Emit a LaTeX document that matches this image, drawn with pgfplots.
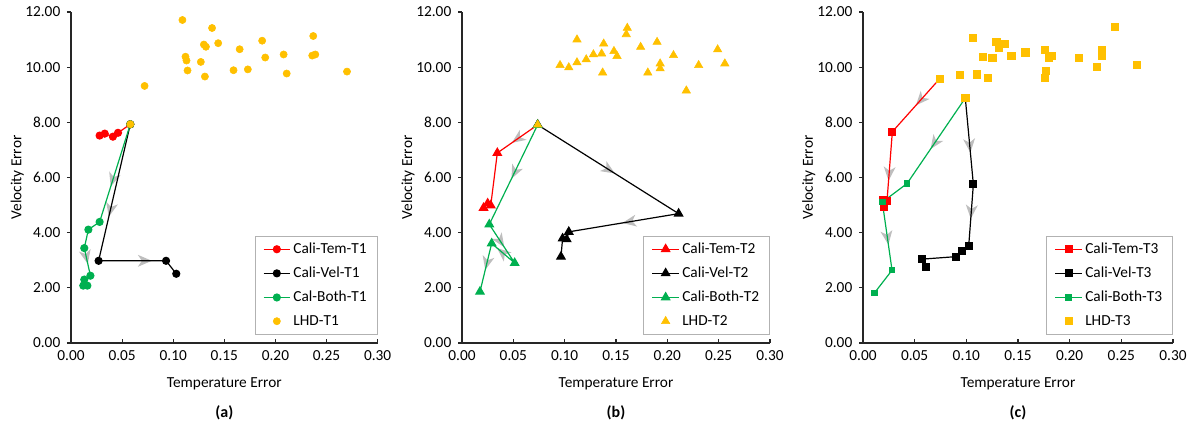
\documentclass[border=0pt]{standalone}
\usepackage{fontspec}
\setmainfont{Carlito}
\usepackage{pgfplots}
\pgfplotsset{compat=1.18}
\usetikzlibrary{decorations.markings}
\definecolor{cRed}{RGB}{255,0,0}
\definecolor{cGrn}{RGB}{0,176,80}
\definecolor{cGld}{RGB}{255,192,0}
\definecolor{cArr}{RGB}{190,190,190}
\pgfplotsset{
  P/.style={
    scale only axis, width=230pt, height=248.25pt,
    xmin=0, xmax=0.30, ymin=0, ymax=12,
    xtick={0,0.05,...,0.30}, ytick={0,2,...,12},
    axis x line*=bottom, axis y line*=left,
    axis line style={black!85, line width=0.8pt},
    xtick align=inside, ytick align=outside,
    major tick length=3pt, tick style={black!85, line width=0.8pt},
    font=\fontsize{11.5}{13.5}\selectfont,
    /pgf/number format/assume math mode=true,
    /pgf/number format/.cd, fixed, fixed zerofill, precision=2, /pgfplots/.cd,
    xticklabel style={yshift=-2pt},
    yticklabel style={xshift=-1.5pt},
    xlabel={Temperature Error}, ylabel={Velocity Error},
    xlabel style={at={(axis description cs:0.5,-0.124)}, anchor=center},
    ylabel style={at={(axis description cs:-0.175,0.5)}, anchor=center},
    legend style={at={(1,0.027)}, anchor=south east, draw=black!30,
      font=\fontsize{11.5}{13.5}\selectfont, row sep=4.6pt, inner xsep=6pt, inner ysep=3pt},
    legend cell align=left,
    legend image code/.code={\draw[mark repeat=2,mark phase=2]
      plot coordinates {(0pt,0pt)(10pt,0pt)(20pt,0pt)};},
    clip=false,
  },
  ln/.style={line width=0.9pt, mark options={solid}},
  arr/.style={forget plot, no markers, draw=none, postaction={decorate},
    decoration={markings, mark=at position #1 with
      {\fill[cArr] (6pt,0) -- (-4.5pt,4.5pt) -- (-1.5pt,0) -- (-4.5pt,-4.5pt) -- cycle;}}},
}
\begin{document}
\begin{tikzpicture}
\path[use as bounding box] (-53.25pt,-67.5pt) rectangle (841.5pt,257.25pt);

% ---------------- (a)
\begin{axis}[P, at={(0pt,0pt)}]
\addplot[arr=0.56] coordinates {(0.058,7.93)(0.028,4.39)};
\addplot[arr=0.62] coordinates {(0.058,7.93)(0.027,2.98)};
\addplot[arr=0.67] coordinates {(0.027,2.98)(0.093,2.98)};
\addplot[arr=0.29] coordinates {(0.013,3.44)(0.019,2.44)};
\addplot[ln, cRed, mark=*, mark size=2.6pt] coordinates {
 (0.058,7.93)(0.046,7.62)(0.041,7.48)(0.033,7.59)(0.028,7.52)};
\addlegendentry{Cali-Tem-T1}
\addplot[ln, black, mark=*, mark size=2.6pt] coordinates {
 (0.058,7.93)(0.027,2.98)(0.093,2.98)(0.103,2.51)};
\addlegendentry{Cali-Vel-T1}
\addplot[ln, cGrn, mark=*, mark size=2.6pt] coordinates {
 (0.058,7.93)(0.028,4.39)(0.017,4.11)(0.013,3.44)(0.019,2.44)(0.013,2.30)(0.012,2.08)(0.016,2.08)};
\addlegendentry{Cal-Both-T1}
\addplot[only marks, cGld, mark=*, mark size=2.7pt] coordinates {
 (0.058,7.93)(0.072,9.32)(0.109,11.71)(0.138,11.42)(0.130,10.82)(0.132,10.74)
 (0.144,10.87)(0.112,10.38)(0.113,10.24)(0.127,10.19)(0.114,9.88)(0.131,9.66)
 (0.165,10.65)(0.187,10.96)(0.190,10.35)(0.159,9.89)(0.173,9.92)(0.208,10.46)
 (0.211,9.77)(0.237,11.13)(0.236,10.42)(0.239,10.46)(0.270,9.84)};
\addlegendentry{LHD-T1}
\node[font=\fontsize{12}{14}\selectfont\bfseries] at (axis description cs:0.5,-0.2115) {(a)};
\end{axis}

% ---------------- (b)
\begin{axis}[P, at={(293.25pt,0pt)}, width=231pt]
\addplot[arr=0.48] coordinates {(0.0737,7.91)(0.0344,6.89)};
\addplot[arr=0.47] coordinates {(0.0737,7.91)(0.0266,4.30)};
\addplot[arr=0.50] coordinates {(0.0737,7.91)(0.211,4.69)};
\addplot[arr=0.44] coordinates {(0.211,4.69)(0.104,4.03)};
\addplot[arr=0.42] coordinates {(0.0266,4.30)(0.0513,2.90)};
\addplot[arr=0.50] coordinates {(0.0513,2.90)(0.0289,3.61)};
\addplot[arr=0.39] coordinates {(0.0289,3.61)(0.0175,1.86)};
\addplot[ln, cRed, mark=triangle*, mark size=3.5pt] coordinates {
 (0.0737,7.91)(0.0344,6.89)(0.028,4.99)(0.025,5.06)(0.021,4.90)};
\addlegendentry{Cali-Tem-T2}
\addplot[ln, black, mark=triangle*, mark size=3.5pt] coordinates {
 (0.0737,7.91)(0.211,4.69)(0.104,4.03)(0.102,3.76)(0.098,3.79)(0.0964,3.13)};
\addlegendentry{Cali-Vel-T2}
\addplot[ln, cGrn, mark=triangle*, mark size=3.5pt] coordinates {
 (0.0737,7.91)(0.0266,4.30)(0.0513,2.90)(0.0289,3.61)(0.0175,1.86)};
\addlegendentry{Cali-Both-T2}
\addplot[only marks, cGld, mark=triangle*, mark size=3.6pt] coordinates {
 (0.0737,7.91)(0.0955,10.07)(0.104,9.99)(0.112,10.17)(0.112,11.00)(0.121,10.28)
 (0.128,10.46)(0.136,10.49)(0.138,10.85)(0.137,9.80)(0.148,10.58)(0.151,10.40)
 (0.160,11.19)(0.161,11.42)(0.174,10.73)(0.190,10.91)(0.181,9.80)(0.193,10.13)
 (0.193,9.95)(0.206,10.43)(0.2185,9.15)(0.2305,10.07)(0.249,10.64)(0.256,10.13)};
\addlegendentry{LHD-T2}
\node[font=\fontsize{12}{14}\selectfont\bfseries] at (axis description cs:0.5,-0.2115) {(b)};
\end{axis}

% ---------------- (c)
\begin{axis}[P, at={(594pt,0pt)}, width=232.5pt]
\addplot[arr=0.39] coordinates {(0.0742,9.58)(0.0284,7.66)};
\addplot[arr=0.59] coordinates {(0.0284,7.66)(0.0232,5.14)};
\addplot[arr=0.52] coordinates {(0.099,8.88)(0.0426,5.78)};
\addplot[arr=0.51] coordinates {(0.0187,5.11)(0.0281,2.64)};
\addplot[arr=0.54] coordinates {(0.099,8.88)(0.1068,5.75)};
\addplot[arr=0.43] coordinates {(0.1068,5.75)(0.1023,3.52)};
\addplot[ln, cRed, mark=square*, mark size=2.5pt] coordinates {
 (0.0742,9.58)(0.0284,7.66)(0.0232,5.14)(0.0194,5.18)(0.0200,4.92)};
\addlegendentry{Cali-Tem-T3}
\addplot[ln, black, mark=square*, mark size=2.5pt] coordinates {
 (0.099,8.88)(0.1068,5.75)(0.1023,3.52)(0.0958,3.32)(0.0897,3.13)(0.0571,3.04)(0.0606,2.75)};
\addlegendentry{Cali-Vel-T3}
\addplot[ln, cGrn, mark=square*, mark size=2pt] coordinates {
 (0.099,8.88)(0.0426,5.78)(0.0187,5.11)(0.0281,2.64)(0.011,1.81)};
\addlegendentry{Cali-Both-T3}
\addplot[only marks, cGld, mark=square*, mark size=2.7pt] coordinates {
 (0.0742,9.58)(0.099,8.88)(0.094,9.72)(0.110,9.74)(0.121,9.61)(0.106,11.06)
 (0.116,10.38)(0.125,10.34)(0.129,10.92)(0.131,10.72)(0.137,10.86)(0.1435,10.42)
 (0.157,10.54)(0.176,10.64)(0.177,9.88)(0.176,9.62)(0.180,10.34)(0.183,10.40)
 (0.209,10.33)(0.226,10.02)(0.231,10.62)(0.231,10.42)(0.244,11.46)(0.265,10.10)};
\addlegendentry{LHD-T3}
\node[font=\fontsize{12}{14}\selectfont\bfseries] at (axis description cs:0.5,-0.2115) {(c)};
\end{axis}
\end{tikzpicture}
\end{document}
